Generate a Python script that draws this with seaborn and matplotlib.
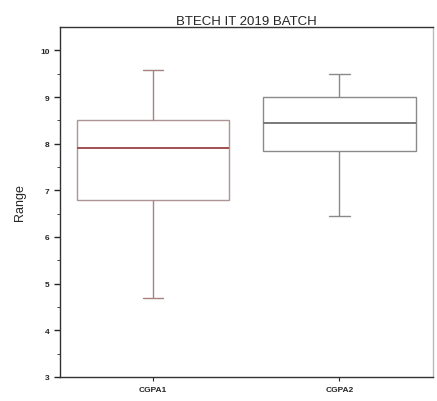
import matplotlib
matplotlib.use("Agg")
import matplotlib.pyplot as plt
import seaborn as sns
import pandas as pd
import numpy as np

categories = ["CGPA1", "CGPA2"]
# five-number summaries: min, Q1, median, Q3, max
cgpa1 = [4.7, 6.8, 7.9, 8.5, 9.58]
cgpa2 = [6.45, 7.85, 8.45, 9.0, 9.5]
title = "BTECH IT 2019 BATCH"
ylabel = "Range"
yticks = [3, 4, 5, 6, 7, 8, 9, 10]

df = pd.DataFrame({
    "cat": [categories[0]] * len(cgpa1) + [categories[1]] * len(cgpa2),
    "val": cgpa1 + cgpa2,
})

sns.set_style("ticks")
plt.rcParams["font.family"] = ["Liberation Sans", "DejaVu Sans"]

fig = plt.figure(figsize=(4.37, 4.02), dpi=100)
ax = fig.add_axes([0.137, 0.06, 0.853, 0.87])

sns.boxplot(data=df, x="cat", y="val", ax=ax, whis=np.inf, width=0.82,
            color="white", linecolor="#8a8a8a", linewidth=1.0, fill=True,
            medianprops=dict(color="#7a7a7a", linewidth=1.4))

# shorten whisker caps like the reference
cap_half = 0.055
for ln in ax.lines:
    x = np.asarray(ln.get_xdata(), dtype=float)
    y = np.asarray(ln.get_ydata(), dtype=float)
    if len(x) == 2 and y[0] == y[1]:
        c = x.mean()
        yv = y[0]
        box_vals = cgpa1 if c < 0.5 else cgpa2
        if np.isclose(yv, min(box_vals)) or np.isclose(yv, max(box_vals)):
            ln.set_xdata([c - cap_half, c + cap_half])

# colour first box reddish like reference
ax.patches[0].set_edgecolor("#b09494")
for ln in ax.lines:
    x = np.asarray(ln.get_xdata(), dtype=float)
    if len(x) and x.mean() < 0.5:
        ln.set_color("#a88080")
        y = np.asarray(ln.get_ydata(), dtype=float)
        if len(y) == 2 and np.isclose(y[0], np.median(cgpa1)) and (x[1] - x[0]) > 0.5:
            ln.set_color("#a05050")

ax.set_ylim(3, 10.5)
ax.set_xlim(-0.5, 1.5)
ax.set_yticks(yticks)
ax.set_yticks(np.arange(3.5, 10.5, 1.0), minor=True)
ax.tick_params(axis="y", labelsize=6, width=1, length=4, direction="out")
ax.tick_params(axis="y", which="minor", length=2.5)
ax.tick_params(axis="x", labelsize=6, length=3)
for lab in ax.get_xticklabels() + ax.get_yticklabels():
    lab.set_fontweight("bold")
ax.set_xlabel("")
ax.set_ylabel(ylabel, fontsize=9, labelpad=10)
ax.set_title(title, fontsize=9.5, pad=2)
for s in ax.spines.values():
    s.set_visible(True)
    s.set_linewidth(1.0)
    s.set_color("#333333")
ax.spines["right"].set_color("#bbbbbb")

fig.savefig("out.png", dpi=100)
